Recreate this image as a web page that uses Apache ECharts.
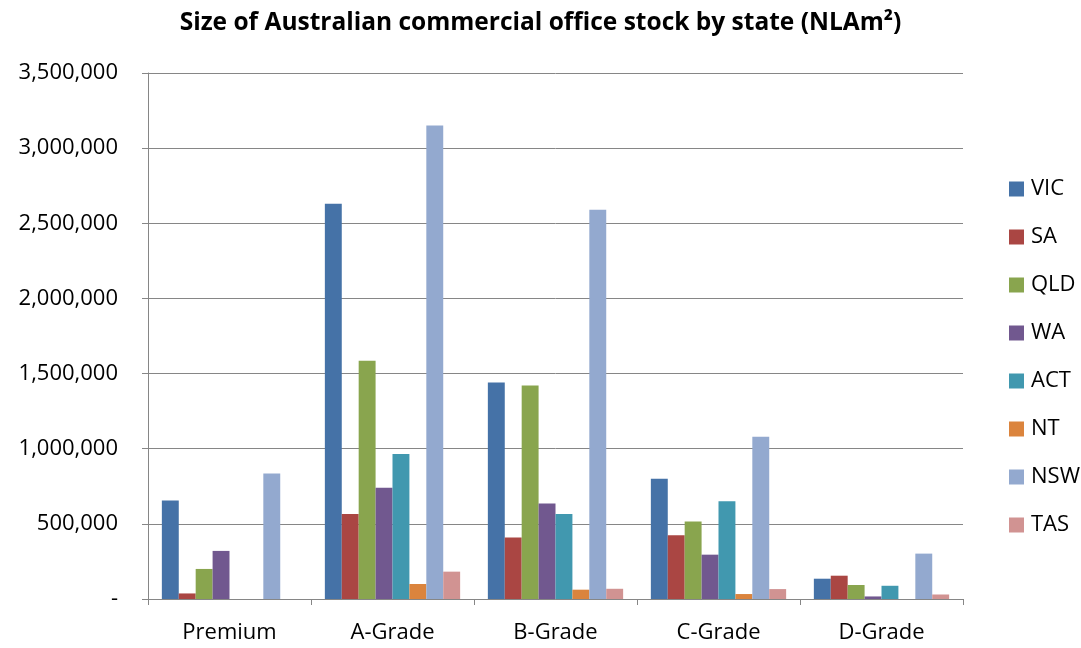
<!DOCTYPE html>
<html>
<head>
<meta charset="utf-8">
<script src="https://cdn.jsdelivr.net/npm/echarts@6/dist/echarts.min.js"></script>
<style>
  html, body { margin: 0; padding: 0; background: #fff; }
  #main { width: 1081px; height: 648px; }
</style>
</head>
<body>
<div id="main"></div>
<script>
const grades = ["Premium", "A-Grade", "B-Grade", "C-Grade", "D-Grade"]
const states = ["VIC", "SA", "QLD", "WA", "ACT", "NT", "NSW", "TAS"]
const colors = ["#4572A7", "#AA4643", "#89A54E", "#71588F", "#4198AF", "#DB843D", "#93A9CF", "#D19392"]

// values per state, in grade order
const vic = [655000, 2630000, 1440000, 800000, 135000]
const sa = [37000, 565000, 410000, 425000, 155000]
const qld = [200000, 1585000, 1420000, 515000, 93000]
const wa = [320000, 740000, 635000, 295000, 17000]
const act = [0, 965000, 565000, 650000, 88000]
const nt = [0, 100000, 62000, 33000, 0]
const nsw = [835000, 3150000, 2590000, 1080000, 302000]
const tas = [0, 182000, 68000, 66000, 30000]

const values = [vic, sa, qld, wa, act, nt, nsw, tas]

const myChart = echarts.init(document.getElementById("main"))
const font = "'Open Sans', sans-serif"

myChart.setOption({
  animation: false,
  color: colors,
  title: {
    text: "Size of Australian commercial office stock by state (NLAm²)",
    left: "center",
    top: 6,
    textStyle: { fontFamily: font, fontWeight: "bold", fontSize: 24.5, color: "#000" }
  },
  legend: {
    orient: "vertical",
    left: 1004,
    top: 173,
    itemWidth: 15,
    itemHeight: 15,
    itemGap: 26,
    icon: "rect",
    data: states,
    textStyle: { fontFamily: font, fontSize: 22, lineHeight: 20, color: "#000", padding: [0, 0, 0, 2] }
  },
  grid: { left: 148, right: 118, top: 73, bottom: 49 },
  xAxis: {
    type: "category",
    data: grades,
    axisLine: { lineStyle: { color: "#868686", width: 1 } },
    axisTick: { show: true, length: 6, lineStyle: { color: "#868686" } },
    axisLabel: { fontFamily: font, fontSize: 22, color: "#000", margin: 23 }
  },
  yAxis: {
    type: "value",
    min: 0,
    max: 3500000,
    interval: 500000,
    axisLine: { show: true, lineStyle: { color: "#868686", width: 1 } },
    axisTick: { show: true, length: 6, lineStyle: { color: "#868686" } },
    splitLine: { lineStyle: { color: "#868686", width: 1 } },
    axisLabel: {
      fontFamily: font, fontSize: 22, color: "#000", margin: 30,
      formatter: v => v === 0 ? "-" : v.toLocaleString("en-US")
    }
  },
  series: states.map((s, i) => ({
    name: s,
    type: "bar",
    data: values[i],
    barGap: "0%",
    barCategoryGap: "17%"
  }))
})
</script>
</body>
</html>
